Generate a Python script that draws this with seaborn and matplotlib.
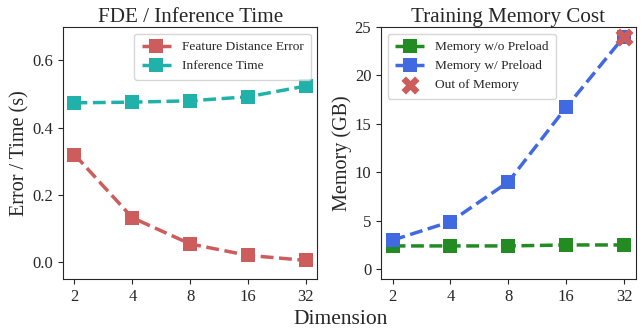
import numpy as np
import seaborn as sns
from matplotlib import pyplot as plt

dims = ["2", "4", "8", "16", "32"]
fde = [0.320, 0.132, 0.054, 0.020, 0.005]
inf_time = [0.474, 0.476, 0.480, 0.492, 0.524]
mem_no_preload = [2.4, 2.4, 2.4, 2.5, 2.5]
mem_preload = [3.0, 4.9, 9.0, 16.7, 24.0]
oom_dims = ["32"]
oom_mem = [24.0]

sns.set_style("ticks")
plt.rcParams["font.family"] = ["Liberation Serif", "DejaVu Serif"]

fig, axes = plt.subplots(1, 2, figsize=[6.42, 3.32], dpi=100)
line_kw = dict(marker="s", linestyle="--", linewidth=2.5, markersize=10,
               markeredgewidth=0, sort=False)

ax = axes[0]
sns.lineplot(x=dims, y=fde, ax=ax, color="indianred", label="Feature Distance Error", **line_kw)
sns.lineplot(x=dims, y=inf_time, ax=ax, color="lightseagreen", label="Inference Time", **line_kw)
ax.set_ylim(-0.05, 0.70)
ax.set_yticks([0.0, 0.2, 0.4, 0.6])
ax.set_title("FDE / Inference Time", fontsize=15.2, pad=3)
ax.set_ylabel("Error / Time (s)", fontsize=14.5, labelpad=2)
ax.legend(loc="upper right", fontsize=9.6, handlelength=2.2, borderpad=0.55)

ax = axes[1]
sns.lineplot(x=dims, y=mem_no_preload, ax=ax, color="forestgreen", label="Memory w/o Preload", **line_kw)
sns.lineplot(x=dims, y=mem_preload, ax=ax, color="royalblue", label="Memory w/ Preload", **line_kw)
sns.scatterplot(x=oom_dims, y=oom_mem, ax=ax, color="indianred", marker="X", s=170,
                linewidth=0, label="Out of Memory", zorder=5)
ax.set_ylim(-1, 25)
ax.set_yticks([0, 5, 10, 15, 20, 25])
ax.set_title("Training Memory Cost", fontsize=15.2, pad=3)
ax.set_ylabel("Memory (GB)", fontsize=14.5, labelpad=2)
ax.legend(loc="upper left", fontsize=9.6, handlelength=2.2, borderpad=0.55)

for ax in axes:
    ax.set_xlabel("")
    ax.tick_params(labelsize=12)

fig.text(0.53, 0.01, "Dimension", fontsize=15.5, ha="center", va="bottom")
plt.subplots_adjust(left=0.098, right=0.99, top=0.919, bottom=0.16, wspace=0.25)
plt.savefig("out.png", dpi=100)
